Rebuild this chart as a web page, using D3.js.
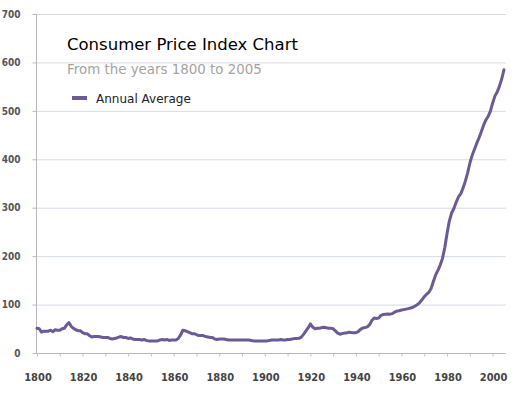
<!DOCTYPE html>
<html>
<head>
<meta charset="utf-8">
<script src="https://cdn.jsdelivr.net/npm/d3@7"></script>
<style>
  html, body { margin: 0; padding: 0; background: #fff; }
  svg { display: block; }
</style>
</head>
<body>
<div id="chart"></div>
<script>
// CPI annual average, 1800 - 2005 (1967 = 100)
const years = d3.range(1800, 2006);
const cpi = [
  51, 50, 43, 45, 45, 45, 47, 44, 48, 47,
  47, 50, 51, 58, 63, 55, 51, 48, 46, 46,
  42, 40, 40, 36, 33, 34, 34, 34, 33, 32,
  32, 32, 30, 29, 30, 31, 33, 34, 32, 32,
  30, 31, 29, 28, 28, 28, 27, 28, 26, 25,
  25, 25, 25, 25, 27, 28, 27, 28, 26, 27,
  27, 27, 30, 37, 47, 46, 44, 42, 40, 40,
  38, 36, 36, 36, 34, 33, 32, 32, 29, 28,
  29, 29, 29, 28, 27, 27, 27, 27, 27, 27,
  27, 27, 27, 27, 26, 25, 25, 25, 25, 25,
  25, 25, 26, 27, 27, 27, 27, 28, 27, 27,
  28, 28, 29, 29.7, 30.1, 30.4, 32.7, 38.4, 45.1, 51.8,
  60.0, 53.6, 50.2, 51.1, 51.2, 52.5, 53.0, 52.0, 51.3, 51.3,
  50.0, 45.6, 40.9, 38.8, 40.1, 41.1, 41.5, 43.0, 42.2, 41.6,
  42.0, 44.1, 48.8, 51.8, 52.7, 53.9, 58.5, 66.9, 72.1, 71.4,
  72.1, 77.8, 79.5, 80.1, 80.5, 80.2, 81.4, 84.3, 86.6, 87.3,
  88.7, 89.6, 90.6, 91.7, 92.9, 94.5, 97.2, 100.0, 104.2, 109.8,
  116.3, 121.3, 125.3, 133.1, 147.7, 161.2, 170.5, 181.5, 195.4, 217.4,
  246.8, 272.4, 289.1, 298.4, 311.1, 322.2, 328.4, 340.4, 354.3, 371.3,
  391.4, 408.0, 420.3, 432.7, 444.0, 456.5, 469.9, 480.8, 488.3, 499.0,
  515.8, 530.4, 538.8, 551.1, 565.8, 585.0
];
const yTicks = [0, 100, 200, 300, 400, 500, 600, 700];
const xLabels = [1800, 1820, 1840, 1860, 1880, 1900, 1920, 1940, 1960, 1980, 2000];
const xMinor = d3.range(1800, 2006, 10);

const title = "Consumer Price Index Chart";
const subtitle = "From the years 1800 to 2005";
const seriesName = "Annual Average";

const width = 522, height = 394;
const lineColor = "#6b5b95";
const axisFont = "'DejaVu Sans Condensed', 'DejaVu Sans', sans-serif";
const textFont = "'DejaVu Sans', Verdana, sans-serif";

const svg = d3.select("#chart").append("svg")
  .attr("width", width)
  .attr("height", height);

const x = d3.scaleLinear().domain([1800, 2005]).range([37, 504]);
const y = d3.scaleLinear().domain([0, 700]).range([353, 14]);

// gridlines
svg.append("g")
  .selectAll("line")
  .data(yTicks.filter(d => d > 0))
  .join("line")
  .attr("x1", 37).attr("x2", 506)
  .attr("y1", d => y(d) + 0.5).attr("y2", d => y(d) + 0.5)
  .attr("stroke", "#d6dae6")
  .attr("stroke-width", 1);

// y axis
const yAxis = svg.append("g")
  .attr("transform", "translate(36.5,0)")
  .call(d3.axisLeft(y).tickValues(yTicks).tickSize(4).tickPadding(12));
yAxis.select(".domain").attr("stroke", "#b8b8b8").attr("d", `M0,${y(700)}V${y(0)}`);
yAxis.selectAll(".tick line").attr("stroke", "#b8b8b8");
yAxis.selectAll("text")
  .attr("fill", "#555")
  .attr("font-family", axisFont)
  .attr("font-weight", "bold")
  .attr("font-size", 10);

// x axis
const xAxis = svg.append("g")
  .attr("transform", "translate(0,353.5)")
  .call(d3.axisBottom(x).tickValues(xMinor).tickSize(3).tickFormat(""));
xAxis.select(".domain").attr("stroke", "#b8b8b8").attr("d", `M36,0H506`);
xAxis.selectAll(".tick line").attr("stroke", "#c4c4c4");

svg.append("g")
  .selectAll("text")
  .data(xLabels)
  .join("text")
  .attr("x", d => x(d) + 1)
  .attr("y", 381)
  .attr("text-anchor", "middle")
  .attr("fill", "#444")
  .attr("font-family", axisFont)
  .attr("font-weight", "bold")
  .attr("font-size", 11)
  .text(d => d);

// series line
const line = d3.line()
  .x((d, i) => x(years[i]))
  .y(d => y(d));

svg.append("path")
  .datum(cpi)
  .attr("d", line)
  .attr("fill", "none")
  .attr("stroke", lineColor)
  .attr("stroke-width", 3)
  .attr("stroke-linejoin", "round")
  .attr("stroke-linecap", "round");

// title, subtitle, legend
svg.append("text")
  .attr("x", 67).attr("y", 50)
  .attr("font-family", textFont)
  .attr("font-size", 16.5)
  .attr("fill", "#000")
  .text(title);

svg.append("text")
  .attr("x", 67).attr("y", 74)
  .attr("font-family", textFont)
  .attr("font-size", 13.4)
  .attr("fill", "#a3a3a3")
  .text(subtitle);

svg.append("rect")
  .attr("x", 72).attr("y", 96)
  .attr("width", 15).attr("height", 4)
  .attr("fill", lineColor);

svg.append("text")
  .attr("x", 96).attr("y", 103)
  .attr("font-family", textFont)
  .attr("font-size", 12)
  .attr("fill", "#222")
  .text(seriesName);
</script>
</body>
</html>
